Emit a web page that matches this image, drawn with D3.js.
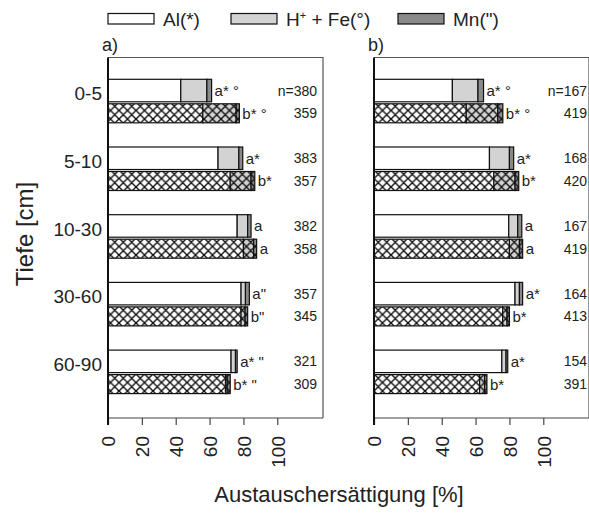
<!DOCTYPE html>
<html>
<head>
<meta charset="utf-8">
<script src="https://cdn.jsdelivr.net/npm/d3@7"></script>
<style>
  html, body { margin: 0; padding: 0; background: #fff; }
  svg { display: block; font-family: "Liberation Sans", Arial, Helvetica, sans-serif; }
</style>
</head>
<body>
<svg id="chart" width="589" height="515"></svg>
<script>
// Tiefenstufen (cm)
const depths = ["0-5", "5-10", "10-30", "30-60", "60-90"];
const xTicks = [0, 20, 40, 60, 80, 100];

// Austauschersättigung [%] je Kation, Teil a) – obere (offene) Balken
const aOpenAl  = [43.0, 65.0, 76.3, 78.6, 72.7];
const aOpenHFe = [15.4, 12.3, 6.2, 2.6, 2.6];
const aOpenMn  = [2.8, 2.3, 2.0, 2.3, 1.0];
// Teil a) – untere (schraffierte) Balken
const aHatchAl  = [56.0, 72.2, 80.0, 78.6, 69.4];
const aHatchHFe = [19.7, 12.3, 6.0, 2.4, 1.0];
const aHatchMn  = [1.9, 2.2, 1.8, 1.5, 1.8];

// Teil b) – obere (offene) Balken
const bOpenAl  = [46.3, 68.2, 79.6, 83.3, 75.5];
const bOpenHFe = [15.1, 11.8, 5.3, 2.6, 2.5];
const bOpenMn  = [3.3, 2.5, 2.4, 1.9, 1.0];
// Teil b) – untere (schraffierte) Balken
const bHatchAl  = [54.5, 70.8, 80.0, 76.0, 62.4];
const bHatchHFe = [18.6, 12.5, 5.9, 2.6, 2.9];
const bHatchMn  = [3.0, 2.2, 1.9, 1.4, 1.4];

// Signifikanzkennungen
const aOpenSig  = ["a* °", "a*", "a", "a\"", "a* \""];
const aHatchSig = ["b* °", "b*", "a", "b\"", "b* \""];
const bOpenSig  = ["a* °", "a*", "a", "a*", "a*"];
const bHatchSig = ["b* °", "b*", "a", "b*", "b*"];

// Stichprobenumfänge
const aOpenN  = [380, 383, 382, 357, 321];
const aHatchN = [359, 357, 358, 345, 309];
const bOpenN  = [167, 168, 167, 164, 154];
const bHatchN = [419, 420, 419, 413, 391];

const legendLabels = ["Al(*)", "H+ + Fe(°)", "Mn(\")"];
const fills = ["#ffffff", "#d3d3d3", "#8a8a8a"];

const svg = d3.select("#chart");

// Kreuzschraffur
const defs = svg.append("defs");
fills.forEach((f, i) => {
  const p = defs.append("pattern")
    .attr("id", "hatch" + i)
    .attr("patternUnits", "userSpaceOnUse")
    .attr("width", 8.5).attr("height", 8.5);
  p.append("rect").attr("width", 8.5).attr("height", 8.5).attr("fill", f);
  p.append("path")
    .attr("d", "M0,0L8.5,8.5M8.5,0L0,8.5M-1,7.5L1,9.5M7.5,-1L9.5,1M-1,1L1,-1M7.5,9.5L9.5,7.5")
    .attr("stroke", "#111").attr("stroke-width", 1.4);
});

const yTop = 57.5, yBottom = 418;
const y = d3.scaleBand().domain(depths).range([79.3, 79.3 + 5 * 67.7]).padding(0);
const openH = 22.5, gap = 2, hatchH = 19;

const panels = [
  { label: "a)", x0: 108, x1: 323, open: [aOpenAl, aOpenHFe, aOpenMn], hatch: [aHatchAl, aHatchHFe, aHatchMn],
    openSig: aOpenSig, hatchSig: aHatchSig, openN: aOpenN, hatchN: aHatchN, nRight: 317 },
  { label: "b)", x0: 374, x1: 589, open: [bOpenAl, bOpenHFe, bOpenMn], hatch: [bHatchAl, bHatchHFe, bHatchMn],
    openSig: bOpenSig, hatchSig: bHatchSig, openN: bOpenN, hatchN: bHatchN, nRight: 587 }
];

function stackRows(series) {
  return depths.map((d, i) => {
    let acc = 0;
    return series.map((s, k) => {
      const seg = { depth: d, k, start: acc, end: acc + s[i] };
      acc += s[i];
      return seg;
    });
  });
}

panels.forEach(p => {
  const x = d3.scaleLinear().domain([0, 127]).range([p.x0, p.x1]);
  const g = svg.append("g");

  // Rahmen oben und rechts
  g.append("path")
    .attr("d", `M${p.x0},${yTop}H${p.x1}V${yBottom}`)
    .attr("fill", "none").attr("stroke", "#555").attr("stroke-width", 1.2);

  // x-Achse
  const xAxis = g.append("g")
    .attr("transform", `translate(0,${yBottom})`)
    .call(d3.axisBottom(x).tickValues(xTicks).tickSize(7).tickSizeOuter(0).tickPadding(0));
  xAxis.select(".domain").attr("d", `M${p.x0},0H${p.x1}`).attr("stroke", "#444").attr("stroke-width", 1.2);
  xAxis.selectAll(".tick line").attr("stroke", "#444").attr("stroke-width", 1.2);
  xAxis.selectAll(".tick text")
    .attr("transform", "rotate(-90)")
    .attr("x", -18).attr("y", 0).attr("dy", "0.36em")
    .style("text-anchor", "end")
    .attr("font-size", 19).attr("fill", "#222")
    .attr("font-family", "Liberation Sans, Arial, sans-serif");

  // Balken
  const openRows = stackRows(p.open);
  const hatchRows = stackRows(p.hatch);

  openRows.forEach(row => {
    g.selectAll(null).data(row).enter().append("rect")
      .attr("x", d => x(d.start)).attr("width", d => x(d.end) - x(d.start))
      .attr("y", d => y(d.depth)).attr("height", openH)
      .attr("fill", d => fills[d.k]).attr("stroke", "#111").attr("stroke-width", 1.2);
  });
  hatchRows.forEach(row => {
    g.selectAll(null).data(row).enter().append("rect")
      .attr("x", d => x(d.start)).attr("width", d => x(d.end) - x(d.start))
      .attr("y", d => y(d.depth) + openH + gap).attr("height", hatchH)
      .attr("fill", d => `url(#hatch${d.k})`).attr("stroke", "#111").attr("stroke-width", 1.2);
  });

  // Signifikanzbuchstaben und Stichprobenumfänge
  depths.forEach((d, i) => {
    const oEnd = openRows[i][2].end, hEnd = hatchRows[i][2].end;
    g.append("text").attr("x", x(oEnd) + 3).attr("y", y(d) + openH / 2).attr("dy", "0.36em")
      .attr("font-size", 15).attr("fill", "#222").text(p.openSig[i]);
    g.append("text").attr("x", x(hEnd) + 3).attr("y", y(d) + openH + gap + hatchH / 2).attr("dy", "0.36em")
      .attr("font-size", 15).attr("fill", "#222").text(p.hatchSig[i]);
    g.append("text").attr("x", p.nRight).attr("y", y(d) + openH / 2).attr("dy", "0.36em")
      .attr("text-anchor", "end").attr("font-size", 14).attr("fill", "#222")
      .text((i === 0 ? "n=" : "") + p.openN[i]);
    g.append("text").attr("x", p.nRight).attr("y", y(d) + openH + gap + hatchH / 2).attr("dy", "0.36em")
      .attr("text-anchor", "end").attr("font-size", 14).attr("fill", "#222")
      .text(p.hatchN[i]);
  });

  // linke Achse
  g.append("line").attr("x1", p.x0).attr("x2", p.x0).attr("y1", yTop).attr("y2", yBottom + 7)
    .attr("stroke", "#111").attr("stroke-width", 2);

  // Teilbild-Kennung
  g.append("text").attr("x", p.x0 - 6).attr("y", 51).attr("font-size", 18).attr("fill", "#222").text(p.label);
});

// Tiefenbeschriftung
svg.append("g").selectAll("text").data(depths).enter().append("text")
  .attr("x", 102).attr("y", d => y(d) + 14).attr("dy", "0.36em")
  .attr("text-anchor", "end").attr("font-size", 19).attr("fill", "#222")
  .text(d => d);

// Achsentitel
svg.append("text").attr("transform", "translate(33,234) rotate(-90)")
  .attr("text-anchor", "middle").attr("font-size", 24).attr("fill", "#222").text("Tiefe [cm]");
svg.append("text").attr("x", 339).attr("y", 502)
  .attr("text-anchor", "middle").attr("font-size", 22).attr("fill", "#222").text("Austauschersättigung [%]");

// Legende
const legendX = [108, 231, 398];
const lg = svg.append("g");
legendLabels.forEach((lab, i) => {
  lg.append("rect").attr("x", legendX[i]).attr("y", 13.5).attr("width", 46).attr("height", 10.5)
    .attr("fill", fills[i]).attr("stroke", "#111").attr("stroke-width", 1.2);
  const t = lg.append("text").attr("x", legendX[i] + 55).attr("y", 26).attr("font-size", 19).attr("fill", "#222");
  if (lab.startsWith("H+")) {
    t.append("tspan").text("H");
    t.append("tspan").attr("dy", -7).attr("font-size", 11).text("+");
    t.append("tspan").attr("dy", 7).text(" + Fe(°)");
  } else {
    t.text(lab);
  }
});
</script>
</body>
</html>
